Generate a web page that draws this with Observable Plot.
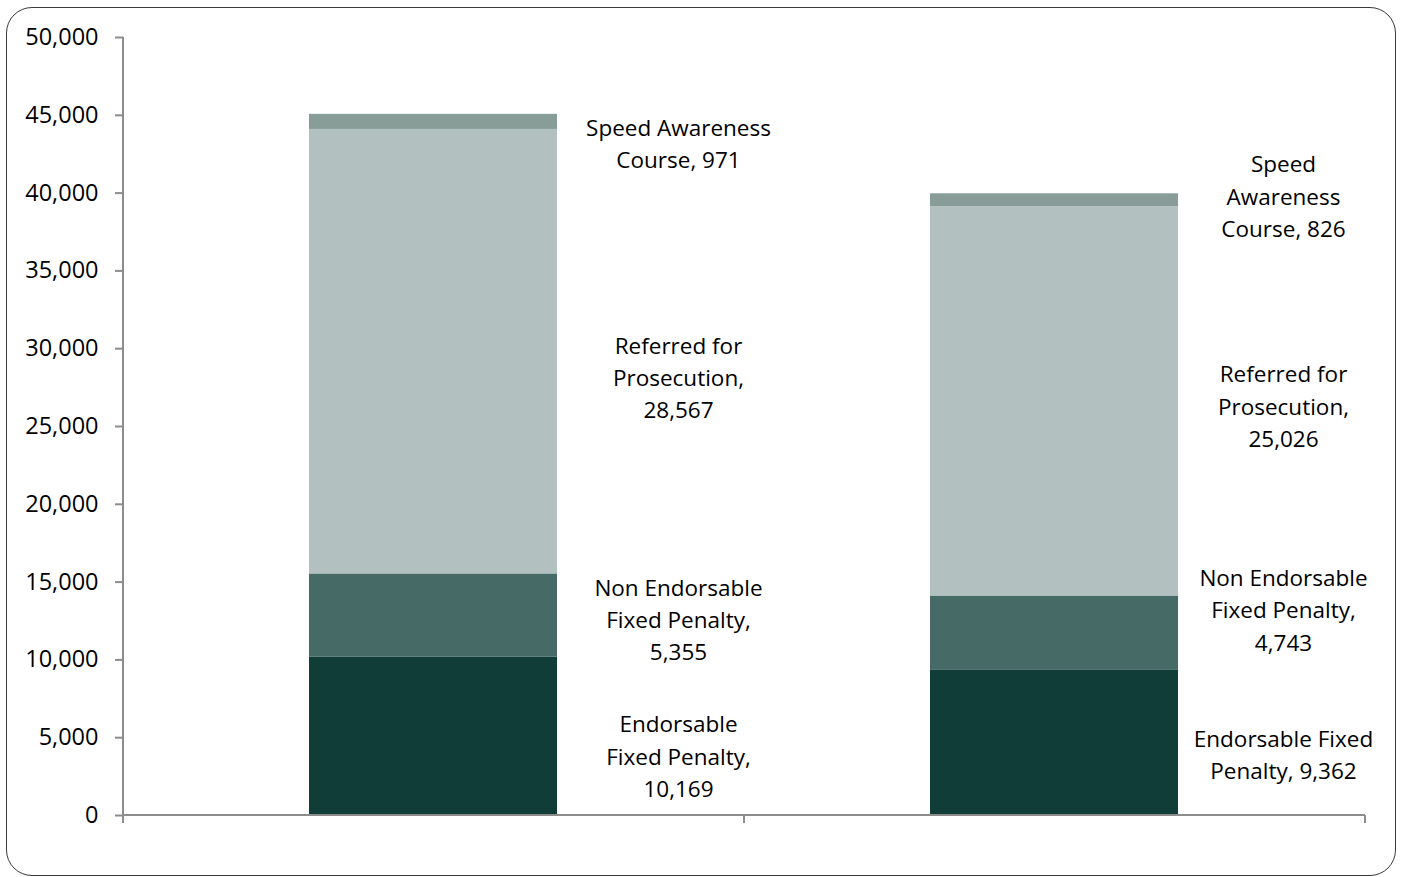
<!DOCTYPE html>
<html>
<head>
<meta charset="utf-8">
<script src="https://cdn.jsdelivr.net/npm/d3@7"></script>
<script src="https://cdn.jsdelivr.net/npm/@observablehq/plot@0.6"></script>
<style>
  html, body { margin: 0; padding: 0; background: #fff; }
  #wrap { position: relative; width: 1401px; height: 877px; overflow: hidden; }
  #border { position: absolute; left: 6px; top: 7px; width: 1388px; height: 867px;
            border: 1.5px solid #3a3a3a; border-radius: 26px; pointer-events: none; }
  #chart { position: absolute; left: 0; top: 0; }
</style>
</head>
<body>
<div id="wrap"><div id="chart"></div><div id="border"></div></div>
<script>
// ---- data ----
const categories = ["Period 1", "Period 2"];
const series = ["Endorsable Fixed Penalty", "Non Endorsable Fixed Penalty", "Referred for Prosecution", "Speed Awareness Course"];
const values1 = [10169, 5355, 28567, 971];
const values2 = [9362, 4743, 25026, 826];
const colors = ["#113d38", "#466a66", "#b2c1c0", "#889d98"];
const yTicks = [0, 5000, 10000, 15000, 20000, 25000, 30000, 35000, 40000, 45000, 50000];
// label text with line breaks; {v} is replaced by the formatted value
const labels1 = ["Endorsable\nFixed Penalty,\n{v}", "Non Endorsable\nFixed Penalty,\n{v}", "Referred for\nProsecution,\n{v}", "Speed Awareness\nCourse, {v}"];
const labels2 = ["Endorsable Fixed\nPenalty, {v}", "Non Endorsable\nFixed Penalty,\n{v}", "Referred for\nProsecution,\n{v}", "Speed\nAwareness\nCourse, {v}"];

// ---- build rows ----
const fmt = d3.format(",.0f");
const rows = [];
[[values1, labels1], [values2, labels2]].forEach(([vals, labs], ci) => {
  let base = 0;
  vals.forEach((v, si) => {
    rows.push({
      category: categories[ci], series: series[si], value: v,
      y1: base, y2: base + v, mid: base + v / 2,
      label: labs[si].replace("{v}", fmt(v)), ci, si
    });
    base += v;
  });
});

// label nudges (pixels) to follow the reference's manual label placement
const dxByBar = [245, 229];
const dyByLabel = [[18, 2, 24, 20], [10, -25, 3, -6]];

const font = "Open Sans";
const labelMarks = rows.map(r => Plot.text([r], {
  x: "category", y: "mid", text: "label",
  dx: dxByBar[r.ci], dy: dyByLabel[r.ci][r.si],
  fontSize: 22.5, lineHeight: 1.44, fill: "#000",
  fontFamily: font
}));

// axis lines and category-boundary ticks (Excel style)
function axisLines(index, scales, values, dim) {
  const g = d3.create("svg:g").attr("stroke", "#8c8c8c").attr("stroke-width", 2).attr("fill", "none");
  const left = dim.marginLeft, right = dim.width - dim.marginRight;
  const top = dim.marginTop, bottom = dim.height - dim.marginBottom;
  g.append("line").attr("x1", left).attr("x2", left).attr("y1", top).attr("y2", bottom + 8);
  g.append("line").attr("x1", left).attr("x2", right).attr("y1", bottom).attr("y2", bottom);
  const n = categories.length;
  d3.range(n + 1).map(i => left + i * (right - left) / n)
    .forEach(b => g.append("line").attr("x1", b).attr("x2", b).attr("y1", bottom).attr("y2", bottom + 8));
  return g.node();
}

const plot = Plot.plot({
  width: 1401,
  height: 877,
  marginLeft: 123,
  marginRight: 36,
  marginTop: 37,
  marginBottom: 62,
  style: { fontFamily: font, color: "#000", background: "transparent" },
  x: { domain: categories, paddingInner: 0.6, paddingOuter: 0.3, axis: null },
  y: { domain: [0, 50000], axis: null },
  color: { domain: series, range: colors },
  marks: [
    Plot.rectY(rows, { x: "category", y1: "y1", y2: "y2", fill: "series" }),
    Plot.axisY({ ticks: yTicks, tickFormat: d => fmt(d), tickSize: 8, tickPadding: 17, fontSize: 23.5,
                 stroke: "#8c8c8c", strokeWidth: 2, strokeOpacity: 1, fill: "#000", label: null,
                 fontFamily: font }),
    axisLines,
    ...labelMarks
  ]
});
document.getElementById("chart").appendChild(plot);
</script>
</body>
</html>
